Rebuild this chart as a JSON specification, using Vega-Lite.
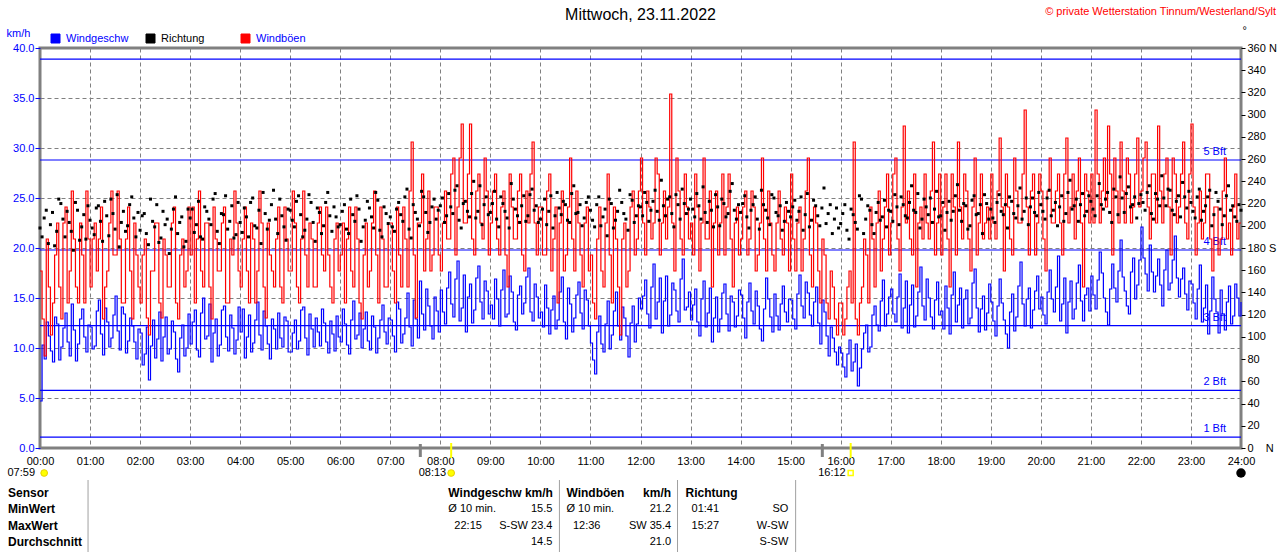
{
"$schema": "https://vega.github.io/schema/vega-lite/v6.json",
"autosize": "none",
"width": 1201,
"height": 400,
"padding": {"left": 40, "top": 48, "right": 39, "bottom": 104},
"background": "white",
"config": {"font": "Liberation Sans", "view": {"stroke": "#808080", "strokeWidth": 3}},
"datasets": {
"wind": [
{"m":0,"w":4.7,"g":17.7,"d":198},{"m":5,"w":8.9,"g":9.2,"d":207},{"m":10,"w":11.2,"g":16.1,"d":184},{"m":15,"w":8.6,"g":14.5,"d":212},{"m":20,"w":12.4,"g":22.5,"d":195},{"m":25,"w":10.1,"g":12.9,"d":220},{"m":30,"w":13.5,"g":24.1,"d":190},{"m":35,"w":9.2,"g":17.7,"d":203},{"m":40,"w":11.8,"g":20.9,"d":178},{"m":45,"w":10.4,"g":14.5,"d":214},{"m":50,"w":13.9,"g":19.3,"d":199},{"m":55,"w":9.6,"g":25.7,"d":188},
{"m":60,"w":12.1,"g":16.1,"d":205},{"m":65,"w":10.2,"g":22.5,"d":192},{"m":70,"w":14.8,"g":20.9,"d":218},{"m":75,"w":9.3,"g":12.9,"d":186},{"m":80,"w":12.6,"g":17.7,"d":209},{"m":85,"w":11.0,"g":25.7,"d":224},{"m":90,"w":15.2,"g":19.3,"d":197},{"m":95,"w":9.8,"g":20.9,"d":181},{"m":100,"w":13.4,"g":14.5,"d":213},{"m":105,"w":10.7,"g":24.1,"d":200},{"m":110,"w":12.2,"g":12.9,"d":226},{"m":115,"w":8.9,"g":19.3,"d":190},
{"m":120,"w":11.5,"g":14.5,"d":196},{"m":125,"w":9.4,"g":20.9,"d":211},{"m":130,"w":6.8,"g":11.3,"d":183},{"m":135,"w":12.8,"g":17.7,"d":204},{"m":140,"w":10.9,"g":22.5,"d":219},{"m":145,"w":8.7,"g":13.0,"d":189},{"m":150,"w":13.1,"g":19.3,"d":201},{"m":155,"w":9.9,"g":16.1,"d":175},{"m":160,"w":11.6,"g":24.1,"d":215},{"m":165,"w":7.6,"g":12.9,"d":193},{"m":170,"w":12.3,"g":20.9,"d":208},{"m":175,"w":10.0,"g":17.7,"d":186},
{"m":180,"w":10.4,"g":19.3,"d":207},{"m":185,"w":13.8,"g":14.5,"d":194},{"m":190,"w":9.1,"g":25.7,"d":222},{"m":195,"w":15.0,"g":16.1,"d":188},{"m":200,"w":11.2,"g":22.5,"d":213},{"m":205,"w":8.6,"g":12.9,"d":201},{"m":210,"w":12.9,"g":20.9,"d":229},{"m":215,"w":10.3,"g":17.7,"d":184},{"m":220,"w":14.2,"g":24.1,"d":210},{"m":225,"w":9.7,"g":14.5,"d":197},{"m":230,"w":12.0,"g":19.3,"d":218},{"m":235,"w":10.8,"g":22.5,"d":192},
{"m":240,"w":11.6,"g":16.1,"d":203},{"m":245,"w":9.0,"g":24.1,"d":216},{"m":250,"w":13.3,"g":14.5,"d":190},{"m":255,"w":10.5,"g":20.9,"d":225},{"m":260,"w":14.6,"g":17.7,"d":198},{"m":265,"w":9.8,"g":22.5,"d":184},{"m":270,"w":12.2,"g":13.0,"d":211},{"m":275,"w":8.9,"g":19.3,"d":205},{"m":280,"w":11.9,"g":16.1,"d":232},{"m":285,"w":13.5,"g":24.1,"d":193},{"m":290,"w":10.1,"g":14.5,"d":209},{"m":295,"w":12.7,"g":20.9,"d":187},
{"m":300,"w":9.6,"g":17.7,"d":214},{"m":305,"w":12.8,"g":22.5,"d":199},{"m":310,"w":10.7,"g":14.5,"d":227},{"m":315,"w":14.1,"g":25.7,"d":190},{"m":320,"w":9.3,"g":16.1,"d":206},{"m":325,"w":11.9,"g":20.9,"d":221},{"m":330,"w":13.0,"g":16.1,"d":186},{"m":335,"w":10.2,"g":24.1,"d":212},{"m":340,"w":12.5,"g":17.7,"d":200},{"m":345,"w":9.5,"g":19.3,"d":230},{"m":350,"w":11.4,"g":14.5,"d":195},{"m":355,"w":13.2,"g":22.5,"d":208},
{"m":360,"w":10.6,"g":19.3,"d":201},{"m":365,"w":12.4,"g":14.5,"d":219},{"m":370,"w":9.4,"g":24.1,"d":193},{"m":375,"w":14.7,"g":16.1,"d":210},{"m":380,"w":11.3,"g":20.9,"d":227},{"m":385,"w":10.0,"g":12.9,"d":186},{"m":390,"w":13.6,"g":22.5,"d":205},{"m":395,"w":9.8,"g":17.7,"d":216},{"m":400,"w":12.1,"g":25.7,"d":198},{"m":405,"w":11.0,"g":14.5,"d":223},{"m":410,"w":14.3,"g":20.9,"d":190},{"m":415,"w":10.4,"g":16.1,"d":211},
{"m":420,"w":12.8,"g":22.5,"d":208},{"m":425,"w":9.6,"g":14.5,"d":195},{"m":430,"w":13.9,"g":19.3,"d":221},{"m":435,"w":11.4,"g":24.1,"d":204},{"m":440,"w":15.5,"g":16.1,"d":233},{"m":445,"w":10.2,"g":30.6,"d":189},{"m":450,"w":12.9,"g":13.0,"d":212},{"m":455,"w":16.7,"g":22.5,"d":200},{"m":460,"w":11.8,"g":17.7,"d":226},{"m":465,"w":14.2,"g":25.7,"d":194},{"m":470,"w":10.9,"g":19.3,"d":217},{"m":475,"w":13.7,"g":24.1,"d":206},
{"m":480,"w":15.8,"g":17.7,"d":218},{"m":485,"w":12.4,"g":25.7,"d":203},{"m":490,"w":17.6,"g":20.9,"d":229},{"m":495,"w":13.1,"g":29.0,"d":211},{"m":500,"w":18.7,"g":24.1,"d":236},{"m":505,"w":14.0,"g":32.4,"d":198},{"m":510,"w":11.6,"g":22.5,"d":222},{"m":515,"w":16.4,"g":32.4,"d":208},{"m":520,"w":13.8,"g":19.3,"d":240},{"m":525,"w":18.2,"g":27.4,"d":213},{"m":530,"w":12.9,"g":20.9,"d":201},{"m":535,"w":15.7,"g":25.7,"d":226},
{"m":540,"w":14.3,"g":22.5,"d":212},{"m":545,"w":16.9,"g":27.4,"d":231},{"m":550,"w":12.2,"g":19.3,"d":199},{"m":555,"w":17.8,"g":25.7,"d":220},{"m":560,"w":13.4,"g":16.1,"d":207},{"m":565,"w":15.6,"g":24.1,"d":238},{"m":570,"w":11.8,"g":20.9,"d":215},{"m":575,"w":16.2,"g":27.4,"d":203},{"m":580,"w":14.5,"g":17.7,"d":227},{"m":585,"w":18.0,"g":22.5,"d":209},{"m":590,"w":12.7,"g":30.6,"d":233},{"m":595,"w":15.1,"g":19.3,"d":218},
{"m":600,"w":13.6,"g":24.1,"d":206},{"m":605,"w":16.3,"g":19.3,"d":224},{"m":610,"w":11.4,"g":27.4,"d":213},{"m":615,"w":15.2,"g":20.9,"d":198},{"m":620,"w":12.8,"g":14.5,"d":230},{"m":625,"w":17.1,"g":25.7,"d":210},{"m":630,"w":10.9,"g":19.3,"d":219},{"m":635,"w":14.4,"g":29.0,"d":203},{"m":640,"w":13.0,"g":17.7,"d":236},{"m":645,"w":16.6,"g":22.5,"d":212},{"m":650,"w":11.9,"g":16.1,"d":200},{"m":655,"w":14.8,"g":24.1,"d":221},
{"m":660,"w":10.5,"g":19.3,"d":214},{"m":665,"w":7.4,"g":12.9,"d":199},{"m":670,"w":13.2,"g":24.1,"d":226},{"m":675,"w":9.6,"g":16.1,"d":208},{"m":680,"w":14.7,"g":27.4,"d":191},{"m":685,"w":11.3,"g":14.5,"d":220},{"m":690,"w":15.6,"g":20.9,"d":205},{"m":695,"w":10.8,"g":11.3,"d":232},{"m":700,"w":13.0,"g":22.5,"d":211},{"m":705,"w":9.1,"g":17.7,"d":196},{"m":710,"w":14.2,"g":25.7,"d":223},{"m":715,"w":12.4,"g":20.9,"d":209},
{"m":720,"w":13.9,"g":29.0,"d":217},{"m":725,"w":16.8,"g":19.3,"d":230},{"m":730,"w":12.0,"g":24.1,"d":204},{"m":735,"w":18.4,"g":22.5,"d":222},{"m":740,"w":14.6,"g":27.4,"d":213},{"m":745,"w":11.5,"g":22.5,"d":241},{"m":750,"w":17.2,"g":20.9,"d":209},{"m":755,"w":13.3,"g":35.4,"d":226},{"m":760,"w":15.8,"g":17.7,"d":199},{"m":765,"w":12.6,"g":25.7,"d":219},{"m":770,"w":18.9,"g":19.3,"d":233},{"m":775,"w":14.1,"g":24.1,"d":211},
{"m":780,"w":12.8,"g":22.5,"d":224},{"m":785,"w":15.9,"g":27.4,"d":208},{"m":790,"w":11.2,"g":17.7,"d":218},{"m":795,"w":16.7,"g":29.0,"d":235},{"m":800,"w":13.5,"g":20.9,"d":203},{"m":805,"w":10.6,"g":16.1,"d":214},{"m":810,"w":15.1,"g":25.7,"d":228},{"m":815,"w":12.9,"g":22.5,"d":200},{"m":820,"w":16.4,"g":19.3,"d":220},{"m":825,"w":11.7,"g":27.4,"d":211},{"m":830,"w":14.6,"g":16.1,"d":238},{"m":835,"w":13.2,"g":24.1,"d":206},
{"m":840,"w":15.3,"g":20.9,"d":212},{"m":845,"w":11.0,"g":25.7,"d":227},{"m":850,"w":16.5,"g":20.9,"d":198},{"m":855,"w":12.4,"g":24.1,"d":219},{"m":860,"w":14.2,"g":19.3,"d":206},{"m":865,"w":10.7,"g":29.0,"d":232},{"m":870,"w":17.0,"g":17.7,"d":214},{"m":875,"w":13.1,"g":22.5,"d":201},{"m":880,"w":15.4,"g":17.7,"d":225},{"m":885,"w":11.8,"g":25.7,"d":209},{"m":890,"w":16.2,"g":19.3,"d":196},{"m":895,"w":12.6,"g":22.5,"d":221},
{"m":900,"w":14.8,"g":27.4,"d":208},{"m":905,"w":11.9,"g":17.7,"d":223},{"m":910,"w":17.3,"g":24.1,"d":213},{"m":915,"w":13.0,"g":20.9,"d":196},{"m":920,"w":15.5,"g":29.0,"d":229},{"m":925,"w":12.2,"g":16.1,"d":205},{"m":930,"w":16.1,"g":22.5,"d":218},{"m":935,"w":10.4,"g":14.5,"d":200},{"m":940,"w":13.6,"g":19.3,"d":234},{"m":945,"w":9.2,"g":12.9,"d":211},{"m":950,"w":11.0,"g":16.1,"d":193},{"m":955,"w":8.3,"g":11.3,"d":216},
{"m":960,"w":9.5,"g":14.5,"d":202},{"m":965,"w":7.1,"g":12.9,"d":219},{"m":970,"w":10.8,"g":17.7,"d":188},{"m":975,"w":8.6,"g":30.6,"d":210},{"m":980,"w":6.2,"g":11.3,"d":197},{"m":985,"w":9.9,"g":16.1,"d":224},{"m":990,"w":12.3,"g":19.3,"d":206},{"m":995,"w":10.1,"g":24.1,"d":214},{"m":1000,"w":14.2,"g":16.1,"d":193},{"m":1005,"w":11.7,"g":25.7,"d":221},{"m":1010,"w":16.8,"g":20.9,"d":208},{"m":1015,"w":13.4,"g":27.4,"d":199},
{"m":1020,"w":15.9,"g":22.5,"d":213},{"m":1025,"w":12.6,"g":29.0,"d":228},{"m":1030,"w":17.4,"g":17.7,"d":201},{"m":1035,"w":14.0,"g":32.2,"d":219},{"m":1040,"w":11.5,"g":25.7,"d":207},{"m":1045,"w":16.3,"g":19.3,"d":236},{"m":1050,"w":13.2,"g":16.1,"d":212},{"m":1055,"w":18.1,"g":24.1,"d":198},{"m":1060,"w":12.8,"g":27.4,"d":224},{"m":1065,"w":15.0,"g":20.9,"d":210},{"m":1070,"w":11.9,"g":30.6,"d":203},{"m":1075,"w":16.6,"g":22.5,"d":231},
{"m":1080,"w":13.7,"g":19.3,"d":209},{"m":1085,"w":16.2,"g":27.4,"d":196},{"m":1090,"w":11.4,"g":16.1,"d":222},{"m":1095,"w":17.6,"g":24.1,"d":213},{"m":1100,"w":14.3,"g":30.6,"d":237},{"m":1105,"w":12.0,"g":20.9,"d":204},{"m":1110,"w":15.8,"g":25.7,"d":218},{"m":1115,"w":13.0,"g":17.7,"d":200},{"m":1120,"w":17.9,"g":29.0,"d":227},{"m":1125,"w":11.6,"g":22.5,"d":211},{"m":1130,"w":15.2,"g":20.9,"d":193},{"m":1135,"w":13.5,"g":24.1,"d":220},
{"m":1140,"w":14.6,"g":27.4,"d":215},{"m":1145,"w":11.2,"g":20.9,"d":203},{"m":1150,"w":16.9,"g":31.0,"d":228},{"m":1155,"w":12.8,"g":17.7,"d":210},{"m":1160,"w":10.0,"g":24.1,"d":198},{"m":1165,"w":15.4,"g":19.3,"d":222},{"m":1170,"w":13.1,"g":25.7,"d":207},{"m":1175,"w":18.6,"g":22.5,"d":234},{"m":1180,"w":12.2,"g":33.8,"d":213},{"m":1185,"w":16.0,"g":19.3,"d":201},{"m":1190,"w":13.8,"g":27.4,"d":225},{"m":1195,"w":17.2,"g":22.5,"d":209},
{"m":1200,"w":15.1,"g":25.7,"d":219},{"m":1205,"w":12.4,"g":17.7,"d":206},{"m":1210,"w":17.8,"g":29.0,"d":232},{"m":1215,"w":13.6,"g":22.5,"d":214},{"m":1220,"w":19.2,"g":27.4,"d":200},{"m":1225,"w":14.4,"g":19.3,"d":227},{"m":1230,"w":11.5,"g":31.0,"d":211},{"m":1235,"w":16.7,"g":24.1,"d":241},{"m":1240,"w":13.9,"g":20.9,"d":218},{"m":1245,"w":18.3,"g":29.0,"d":204},{"m":1250,"w":12.7,"g":16.1,"d":229},{"m":1255,"w":16.0,"g":25.7,"d":213},
{"m":1260,"w":17.2,"g":27.4,"d":222},{"m":1265,"w":13.9,"g":33.8,"d":209},{"m":1270,"w":19.6,"g":22.5,"d":238},{"m":1275,"w":15.0,"g":29.0,"d":215},{"m":1280,"w":12.3,"g":32.2,"d":230},{"m":1285,"w":18.4,"g":19.3,"d":203},{"m":1290,"w":14.6,"g":25.7,"d":226},{"m":1295,"w":20.8,"g":30.6,"d":244},{"m":1300,"w":15.7,"g":22.5,"d":212},{"m":1305,"w":13.4,"g":27.4,"d":235},{"m":1310,"w":19.0,"g":24.1,"d":219},{"m":1315,"w":16.3,"g":31.0,"d":207},
{"m":1320,"w":22.1,"g":25.7,"d":228},{"m":1325,"w":17.4,"g":30.6,"d":214},{"m":1330,"w":20.3,"g":20.9,"d":236},{"m":1335,"w":15.6,"g":27.4,"d":206},{"m":1340,"w":18.9,"g":32.2,"d":224},{"m":1345,"w":14.2,"g":22.5,"d":245},{"m":1350,"w":19.8,"g":29.0,"d":218},{"m":1355,"w":16.5,"g":19.3,"d":232},{"m":1360,"w":21.2,"g":27.4,"d":210},{"m":1365,"w":15.1,"g":24.1,"d":227},{"m":1370,"w":18.0,"g":30.6,"d":239},{"m":1375,"w":13.8,"g":20.9,"d":216},
{"m":1380,"w":16.4,"g":32.4,"d":221},{"m":1385,"w":12.9,"g":19.3,"d":207},{"m":1390,"w":18.3,"g":25.7,"d":233},{"m":1395,"w":14.0,"g":22.5,"d":213},{"m":1400,"w":11.4,"g":27.4,"d":226},{"m":1405,"w":17.1,"g":17.7,"d":200},{"m":1410,"w":13.6,"g":24.1,"d":230},{"m":1415,"w":15.8,"g":20.9,"d":215},{"m":1420,"w":11.8,"g":29.0,"d":209},{"m":1425,"w":16.2,"g":22.5,"d":236},{"m":1430,"w":13.2,"g":24.1,"d":218},{"m":1435,"w":15.0,"g":20.9,"d":204},
{"m":1440,"w":14.6,"g":22.5,"d":214},
{"m":2.5,"w":10.3,"g":12.9,"d":190},{"m":7.5,"w":12.6,"g":20.9,"d":214},{"m":12.5,"w":9.7,"g":11.3,"d":201},{"m":17.5,"w":13.1,"g":19.3,"d":182},{"m":22.5,"w":8.8,"g":16.1,"d":224},{"m":27.5,"w":12.0,"g":22.5,"d":206},{"m":32.5,"w":10.6,"g":14.5,"d":213},{"m":37.5,"w":14.4,"g":25.7,"d":195},{"m":42.5,"w":8.7,"g":16.1,"d":221},{"m":47.5,"w":12.9,"g":22.5,"d":187},{"m":52.5,"w":11.1,"g":14.5,"d":210},{"m":57.5,"w":12.3,"g":20.9,"d":218},
{"m":62.5,"w":9.9,"g":20.9,"d":198},{"m":67.5,"w":13.7,"g":17.7,"d":216},{"m":72.5,"w":11.4,"g":24.1,"d":204},{"m":77.5,"w":14.0,"g":16.1,"d":222},{"m":82.5,"w":10.1,"g":22.5,"d":191},{"m":87.5,"w":13.3,"g":19.3,"d":211},{"m":92.5,"w":11.7,"g":25.7,"d":228},{"m":97.5,"w":14.1,"g":14.5,"d":203},{"m":102.5,"w":9.5,"g":20.9,"d":195},{"m":107.5,"w":13.0,"g":17.7,"d":219},{"m":112.5,"w":10.6,"g":22.5,"d":207},{"m":117.5,"w":11.9,"g":16.1,"d":212},
{"m":122.5,"w":8.3,"g":19.3,"d":209},{"m":127.5,"w":12.1,"g":13.0,"d":193},{"m":132.5,"w":10.2,"g":17.7,"d":224},{"m":137.5,"w":9.0,"g":22.5,"d":199},{"m":142.5,"w":13.6,"g":14.5,"d":185},{"m":147.5,"w":11.1,"g":20.9,"d":213},{"m":152.5,"w":9.4,"g":16.1,"d":206},{"m":157.5,"w":12.7,"g":22.5,"d":197},{"m":162.5,"w":8.9,"g":14.5,"d":226},{"m":167.5,"w":11.0,"g":19.3,"d":203},{"m":172.5,"w":9.2,"g":16.1,"d":181},{"m":177.5,"w":13.4,"g":24.1,"d":215},
{"m":182.5,"w":12.6,"g":24.1,"d":215},{"m":187.5,"w":9.8,"g":20.9,"d":201},{"m":192.5,"w":13.5,"g":17.7,"d":190},{"m":197.5,"w":10.9,"g":22.5,"d":217},{"m":202.5,"w":14.4,"g":16.1,"d":206},{"m":207.5,"w":11.5,"g":24.1,"d":224},{"m":212.5,"w":9.2,"g":17.7,"d":195},{"m":217.5,"w":13.8,"g":22.5,"d":211},{"m":222.5,"w":11.1,"g":14.5,"d":227},{"m":227.5,"w":13.3,"g":20.9,"d":204},{"m":232.5,"w":9.4,"g":25.7,"d":189},{"m":237.5,"w":14.1,"g":17.7,"d":221},
{"m":242.5,"w":13.9,"g":20.9,"d":194},{"m":247.5,"w":11.1,"g":17.7,"d":208},{"m":252.5,"w":9.6,"g":22.5,"d":221},{"m":257.5,"w":12.8,"g":14.5,"d":200},{"m":262.5,"w":11.3,"g":25.7,"d":214},{"m":267.5,"w":13.7,"g":16.1,"d":230},{"m":272.5,"w":10.4,"g":22.5,"d":197},{"m":277.5,"w":12.9,"g":17.7,"d":219},{"m":282.5,"w":9.9,"g":20.9,"d":206},{"m":287.5,"w":11.0,"g":16.1,"d":224},{"m":292.5,"w":13.1,"g":24.1,"d":199},{"m":297.5,"w":9.6,"g":17.7,"d":215},
{"m":302.5,"w":11.5,"g":25.7,"d":205},{"m":307.5,"w":9.9,"g":16.1,"d":222},{"m":312.5,"w":13.8,"g":20.9,"d":210},{"m":317.5,"w":11.0,"g":19.3,"d":196},{"m":322.5,"w":13.4,"g":22.5,"d":228},{"m":327.5,"w":10.1,"g":16.1,"d":203},{"m":332.5,"w":11.6,"g":22.5,"d":216},{"m":337.5,"w":13.9,"g":19.3,"d":193},{"m":342.5,"w":10.6,"g":24.1,"d":221},{"m":347.5,"w":12.7,"g":16.1,"d":209},{"m":352.5,"w":9.7,"g":20.9,"d":217},{"m":357.5,"w":11.1,"g":17.7,"d":199},
{"m":362.5,"w":13.9,"g":22.5,"d":213},{"m":367.5,"w":10.3,"g":20.9,"d":197},{"m":372.5,"w":12.8,"g":17.7,"d":224},{"m":377.5,"w":10.9,"g":24.1,"d":204},{"m":382.5,"w":13.5,"g":14.5,"d":215},{"m":387.5,"w":11.9,"g":19.3,"d":199},{"m":392.5,"w":10.7,"g":16.1,"d":222},{"m":397.5,"w":13.2,"g":22.5,"d":208},{"m":402.5,"w":9.5,"g":19.3,"d":230},{"m":407.5,"w":12.8,"g":24.1,"d":196},{"m":412.5,"w":11.6,"g":16.1,"d":217},{"m":417.5,"w":13.0,"g":22.5,"d":202},
{"m":422.5,"w":11.2,"g":17.7,"d":199},{"m":427.5,"w":14.6,"g":24.1,"d":215},{"m":432.5,"w":10.5,"g":16.1,"d":210},{"m":437.5,"w":13.0,"g":20.9,"d":226},{"m":442.5,"w":12.1,"g":25.7,"d":197},{"m":447.5,"w":14.8,"g":19.3,"d":219},{"m":452.5,"w":11.0,"g":22.5,"d":206},{"m":457.5,"w":13.4,"g":27.4,"d":231},{"m":462.5,"w":15.9,"g":20.9,"d":212},{"m":467.5,"w":12.2,"g":17.7,"d":203},{"m":472.5,"w":15.1,"g":24.1,"d":224},{"m":477.5,"w":11.6,"g":19.3,"d":214},
{"m":482.5,"w":13.6,"g":22.5,"d":225},{"m":487.5,"w":16.0,"g":20.9,"d":209},{"m":492.5,"w":14.4,"g":27.4,"d":217},{"m":497.5,"w":16.9,"g":19.3,"d":232},{"m":502.5,"w":12.7,"g":29.0,"d":205},{"m":507.5,"w":17.3,"g":22.5,"d":220},{"m":512.5,"w":15.1,"g":27.4,"d":213},{"m":517.5,"w":12.5,"g":20.9,"d":229},{"m":522.5,"w":17.0,"g":25.7,"d":207},{"m":527.5,"w":14.6,"g":22.5,"d":236},{"m":532.5,"w":16.7,"g":29.0,"d":219},{"m":537.5,"w":13.4,"g":19.3,"d":210},
{"m":542.5,"w":12.9,"g":25.7,"d":220},{"m":547.5,"w":14.9,"g":20.9,"d":206},{"m":552.5,"w":15.8,"g":24.1,"d":226},{"m":557.5,"w":13.1,"g":19.3,"d":213},{"m":562.5,"w":17.2,"g":27.4,"d":198},{"m":567.5,"w":12.6,"g":20.9,"d":224},{"m":572.5,"w":15.3,"g":25.7,"d":209},{"m":577.5,"w":13.4,"g":19.3,"d":218},{"m":582.5,"w":17.1,"g":25.7,"d":204},{"m":587.5,"w":13.6,"g":27.4,"d":228},{"m":592.5,"w":16.4,"g":22.5,"d":214},{"m":597.5,"w":13.0,"g":24.1,"d":203},
{"m":602.5,"w":12.1,"g":19.3,"d":215},{"m":607.5,"w":14.0,"g":25.7,"d":201},{"m":612.5,"w":13.8,"g":17.7,"d":227},{"m":617.5,"w":11.9,"g":24.1,"d":209},{"m":622.5,"w":15.6,"g":22.5,"d":216},{"m":627.5,"w":12.6,"g":17.7,"d":222},{"m":632.5,"w":16.0,"g":24.1,"d":205},{"m":637.5,"w":11.6,"g":20.9,"d":229},{"m":642.5,"w":15.3,"g":25.7,"d":211},{"m":647.5,"w":13.5,"g":19.3,"d":219},{"m":652.5,"w":15.8,"g":22.5,"d":207},{"m":657.5,"w":12.2,"g":17.7,"d":226},
{"m":662.5,"w":8.8,"g":14.5,"d":205},{"m":667.5,"w":11.6,"g":20.9,"d":219},{"m":672.5,"w":10.4,"g":17.7,"d":200},{"m":677.5,"w":12.4,"g":22.5,"d":215},{"m":682.5,"w":9.9,"g":19.3,"d":224},{"m":687.5,"w":13.7,"g":24.1,"d":198},{"m":692.5,"w":12.2,"g":16.1,"d":213},{"m":697.5,"w":14.1,"g":20.9,"d":221},{"m":702.5,"w":11.2,"g":16.1,"d":206},{"m":707.5,"w":12.5,"g":24.1,"d":228},{"m":712.5,"w":10.6,"g":19.3,"d":203},{"m":717.5,"w":15.0,"g":25.7,"d":218},
{"m":722.5,"w":15.2,"g":22.5,"d":209},{"m":727.5,"w":13.4,"g":25.7,"d":221},{"m":732.5,"w":16.1,"g":20.9,"d":214},{"m":737.5,"w":12.9,"g":29.0,"d":232},{"m":742.5,"w":17.0,"g":19.3,"d":205},{"m":747.5,"w":14.7,"g":25.7,"d":218},{"m":752.5,"w":12.2,"g":24.1,"d":224},{"m":757.5,"w":16.5,"g":22.5,"d":211},{"m":762.5,"w":13.7,"g":29.0,"d":228},{"m":767.5,"w":16.9,"g":20.9,"d":206},{"m":772.5,"w":13.8,"g":27.4,"d":220},{"m":777.5,"w":15.6,"g":20.9,"d":215},
{"m":782.5,"w":14.3,"g":19.3,"d":215},{"m":787.5,"w":12.6,"g":24.1,"d":229},{"m":792.5,"w":14.9,"g":22.5,"d":206},{"m":797.5,"w":12.1,"g":20.9,"d":212},{"m":802.5,"w":16.0,"g":25.7,"d":222},{"m":807.5,"w":13.0,"g":22.5,"d":199},{"m":812.5,"w":11.6,"g":19.3,"d":217},{"m":817.5,"w":15.5,"g":27.4,"d":224},{"m":822.5,"w":13.4,"g":24.1,"d":208},{"m":827.5,"w":15.2,"g":20.9,"d":231},{"m":832.5,"w":12.1,"g":22.5,"d":214},{"m":837.5,"w":15.8,"g":19.3,"d":219},
{"m":842.5,"w":13.0,"g":24.1,"d":220},{"m":847.5,"w":14.6,"g":19.3,"d":208},{"m":852.5,"w":13.7,"g":25.7,"d":214},{"m":857.5,"w":15.7,"g":17.7,"d":226},{"m":862.5,"w":11.9,"g":22.5,"d":197},{"m":867.5,"w":13.9,"g":20.9,"d":219},{"m":872.5,"w":14.9,"g":25.7,"d":207},{"m":877.5,"w":11.6,"g":19.3,"d":228},{"m":882.5,"w":13.2,"g":22.5,"d":212},{"m":887.5,"w":14.4,"g":20.9,"d":218},{"m":892.5,"w":13.6,"g":24.1,"d":204},{"m":897.5,"w":14.9,"g":17.7,"d":213},
{"m":902.5,"w":12.9,"g":20.9,"d":217},{"m":907.5,"w":15.4,"g":22.5,"d":205},{"m":912.5,"w":14.2,"g":17.7,"d":226},{"m":917.5,"w":16.6,"g":25.7,"d":210},{"m":922.5,"w":13.3,"g":19.3,"d":199},{"m":927.5,"w":14.6,"g":24.1,"d":223},{"m":932.5,"w":12.5,"g":17.7,"d":209},{"m":937.5,"w":14.8,"g":20.9,"d":216},{"m":942.5,"w":11.2,"g":14.5,"d":202},{"m":947.5,"w":12.1,"g":17.7,"d":219},{"m":952.5,"w":9.6,"g":12.9,"d":206},{"m":957.5,"w":10.1,"g":14.5,"d":198},
{"m":962.5,"w":8.1,"g":11.3,"d":211},{"m":967.5,"w":9.4,"g":16.1,"d":196},{"m":972.5,"w":7.7,"g":14.5,"d":215},{"m":977.5,"w":10.4,"g":12.9,"d":203},{"m":982.5,"w":8.0,"g":14.5,"d":227},{"m":987.5,"w":11.5,"g":20.9,"d":193},{"m":992.5,"w":9.6,"g":14.5,"d":218},{"m":997.5,"w":13.3,"g":20.9,"d":201},{"m":1002.5,"w":12.3,"g":22.5,"d":212},{"m":1007.5,"w":14.7,"g":17.7,"d":205},{"m":1012.5,"w":12.2,"g":24.1,"d":223},{"m":1017.5,"w":15.1,"g":19.3,"d":214},
{"m":1022.5,"w":13.4,"g":27.4,"d":204},{"m":1027.5,"w":15.1,"g":20.9,"d":217},{"m":1032.5,"w":12.0,"g":24.1,"d":226},{"m":1037.5,"w":16.7,"g":22.5,"d":209},{"m":1042.5,"w":14.3,"g":20.9,"d":221},{"m":1047.5,"w":12.1,"g":27.4,"d":214},{"m":1052.5,"w":15.6,"g":22.5,"d":229},{"m":1057.5,"w":14.2,"g":20.9,"d":206},{"m":1062.5,"w":16.9,"g":22.5,"d":217},{"m":1067.5,"w":13.1,"g":25.7,"d":225},{"m":1072.5,"w":14.8,"g":19.3,"d":215},{"m":1077.5,"w":13.3,"g":27.4,"d":208},
{"m":1082.5,"w":11.9,"g":24.1,"d":221},{"m":1087.5,"w":14.0,"g":20.9,"d":212},{"m":1092.5,"w":15.3,"g":27.4,"d":205},{"m":1097.5,"w":12.6,"g":19.3,"d":227},{"m":1102.5,"w":16.0,"g":24.1,"d":214},{"m":1107.5,"w":14.9,"g":27.4,"d":220},{"m":1112.5,"w":12.4,"g":20.9,"d":197},{"m":1117.5,"w":16.5,"g":24.1,"d":223},{"m":1122.5,"w":14.0,"g":19.3,"d":210},{"m":1127.5,"w":13.9,"g":27.4,"d":219},{"m":1132.5,"w":11.8,"g":22.5,"d":228},{"m":1137.5,"w":16.4,"g":20.9,"d":206},
{"m":1142.5,"w":12.7,"g":22.5,"d":207},{"m":1147.5,"w":14.2,"g":25.7,"d":221},{"m":1152.5,"w":14.5,"g":24.1,"d":213},{"m":1157.5,"w":11.4,"g":27.4,"d":219},{"m":1162.5,"w":13.6,"g":20.9,"d":226},{"m":1167.5,"w":11.7,"g":29.0,"d":211},{"m":1172.5,"w":16.2,"g":22.5,"d":218},{"m":1177.5,"w":14.4,"g":27.4,"d":206},{"m":1182.5,"w":14.9,"g":24.1,"d":225},{"m":1187.5,"w":12.0,"g":25.7,"d":217},{"m":1192.5,"w":15.7,"g":19.3,"d":212},{"m":1197.5,"w":13.9,"g":27.4,"d":230},
{"m":1202.5,"w":13.3,"g":20.9,"d":213},{"m":1207.5,"w":15.6,"g":25.7,"d":225},{"m":1212.5,"w":14.9,"g":22.5,"d":209},{"m":1217.5,"w":16.1,"g":25.7,"d":221},{"m":1222.5,"w":12.7,"g":22.5,"d":217},{"m":1227.5,"w":17.0,"g":27.4,"d":204},{"m":1232.5,"w":14.6,"g":22.5,"d":230},{"m":1237.5,"w":12.9,"g":27.4,"d":215},{"m":1242.5,"w":16.5,"g":25.7,"d":224},{"m":1247.5,"w":14.7,"g":22.5,"d":219},{"m":1252.5,"w":15.3,"g":27.4,"d":209},{"m":1257.5,"w":13.7,"g":22.5,"d":227},
{"m":1262.5,"w":15.3,"g":22.5,"d":215},{"m":1267.5,"w":16.8,"g":27.4,"d":227},{"m":1272.5,"w":17.5,"g":25.7,"d":219},{"m":1277.5,"w":13.6,"g":24.1,"d":224},{"m":1282.5,"w":15.9,"g":27.4,"d":212},{"m":1287.5,"w":16.0,"g":29.0,"d":233},{"m":1292.5,"w":17.7,"g":22.5,"d":210},{"m":1297.5,"w":17.1,"g":25.7,"d":225},{"m":1302.5,"w":14.2,"g":29.0,"d":229},{"m":1307.5,"w":17.6,"g":22.5,"d":217},{"m":1312.5,"w":14.9,"g":27.4,"d":226},{"m":1317.5,"w":18.8,"g":24.1,"d":220},
{"m":1322.5,"w":19.0,"g":29.0,"d":221},{"m":1327.5,"w":15.7,"g":24.1,"d":230},{"m":1332.5,"w":17.6,"g":27.4,"d":211},{"m":1337.5,"w":17.2,"g":22.5,"d":229},{"m":1342.5,"w":16.3,"g":25.7,"d":218},{"m":1347.5,"w":17.8,"g":27.4,"d":225},{"m":1352.5,"w":15.8,"g":24.1,"d":233},{"m":1357.5,"w":18.8,"g":29.0,"d":214},{"m":1362.5,"w":17.0,"g":22.5,"d":222},{"m":1367.5,"w":16.9,"g":27.4,"d":208},{"m":1372.5,"w":15.4,"g":22.5,"d":226},{"m":1377.5,"w":16.7,"g":27.4,"d":231},
{"m":1382.5,"w":14.5,"g":24.1,"d":213},{"m":1387.5,"w":15.9,"g":22.5,"d":226},{"m":1392.5,"w":12.6,"g":20.9,"d":205},{"m":1397.5,"w":16.3,"g":27.4,"d":218},{"m":1402.5,"w":13.7,"g":20.9,"d":232},{"m":1407.5,"w":14.9,"g":24.1,"d":210},{"m":1412.5,"w":11.5,"g":19.3,"d":222},{"m":1417.5,"w":13.4,"g":25.7,"d":201},{"m":1422.5,"w":14.6,"g":20.9,"d":227},{"m":1427.5,"w":12.4,"g":19.3,"d":214},{"m":1432.5,"w":16.4,"g":27.4,"d":208},{"m":1437.5,"w":13.2,"g":22.5,"d":219}
],
"tbl": [
{"c":"L","r":0,"t":"Sensor"},{"c":"L","r":1,"t":"MinWert"},{"c":"L","r":2,"t":"MaxWert"},{"c":"L","r":3,"t":"Durchschnitt"},
{"c":"HA","r":0,"t":"Windgeschw km/h"},{"c":"HB","r":0,"t":"Windböen"},{"c":"HBu","r":0,"t":"km/h"},{"c":"HC","r":0,"t":"Richtung"},
{"c":"A1","r":1,"t":"Ø 10 min."},{"c":"A1b","r":2,"t":"22:15"},
{"c":"A2","r":1,"t":"15.5"},{"c":"A2","r":2,"t":"S-SW 23.4"},{"c":"A2","r":3,"t":"14.5"},
{"c":"B1","r":1,"t":"Ø 10 min."},{"c":"B1b","r":2,"t":"12:36"},
{"c":"B2","r":1,"t":"21.2"},{"c":"B2","r":2,"t":"SW 35.4"},{"c":"B2","r":3,"t":"21.0"},
{"c":"C1b","r":1,"t":"01:41"},{"c":"C1b","r":2,"t":"15:27"},
{"c":"C2","r":1,"t":"SO"},{"c":"C2","r":2,"t":"W-SW"},{"c":"C2","r":3,"t":"S-SW"}
]
},
"layer": [
{
"layer": [
{"data": {"name": "wind"}, "mark": {"type": "line", "interpolate": "step-after", "strokeWidth": 1.2},
 "encoding": {
  "x": {"field": "m", "type": "quantitative", "title": null, "scale": {"domain": [0, 1440], "nice": false, "zero": false},
   "axis": {"values": [0,60,120,180,240,300,360,420,480,540,600,660,720,780,840,900,960,1020,1080,1140,1200,1260,1320,1380,1440],
    "labelExpr": "(datum.value < 600 ? '0' : '') + (datum.value / 60) + ':00'",
    "grid": true, "gridColor": "#808080", "gridDash": [4, 3], "gridWidth": 1, "ticks": false, "tickSize": 0, "domain": false,
    "labelPadding": 7, "labelFontSize": 11, "labelColor": "#000000", "labelFlush": false, "labelOverlap": false, "labelBound": false}},
  "y": {"field": "w", "type": "quantitative", "title": "km/h", "scale": {"domain": [0, 40], "nice": false, "zero": false},
   "axis": {"orient": "left", "values": [0,5,10,15,20,25,30,35,40], "format": ".1f", "grid": true, "gridColor": "#808080", "gridDash": [4, 3], "gridWidth": 1,
    "domain": false, "ticks": true, "tickColor": "#0000ff", "tickSize": 5, "labelPadding": 1, "labelColor": "#0000ff", "labelFontSize": 11, "labelFlush": false,
    "titleAngle": 0, "titleAlign": "left", "titleBaseline": "middle", "titleX": -34, "titleY": -15, "titleColor": "#0000ff", "titleFontWeight": "normal", "titleFontSize": 11}},
  "color": {"datum": "Windgeschw", "type": "nominal",
   "scale": {"domain": ["Windgeschw", "Richtung", "Windböen"], "range": ["#0000ff", "#000000", "#ff0000"]},
   "legend": {"orient": "none", "legendX": 10, "legendY": -15, "direction": "horizontal", "title": null, "symbolType": "square", "symbolSize": 81,
    "symbolStrokeColor": "#000000", "symbolStrokeWidth": 1, "labelFontSize": 11, "labelOffset": 5, "columnPadding": 15, "gridAlign": "all", "padding": 0,
    "encode": {"symbols": {"update": {"fill": {"scale": "color", "field": "value"}, "stroke": {"value": "#000000"}, "strokeWidth": {"value": 1}, "opacity": {"value": 1}, "shape": {"value": "square"}, "size": {"value": 81}}},
     "labels": {"update": {"fill": {"signal": "datum.value === 'Richtung' ? '#000000' : '#0000ff'"}}}}}}}},
{"data": {"values": [{"v":1.08},{"v":5.76},{"v":12.24},{"v":19.8},{"v":28.8},{"v":38.88}]},
 "mark": {"type": "rule", "color": "#0000ff", "strokeWidth": 1.2},
 "encoding": {"y": {"field": "v", "type": "quantitative", "scale": {"domain": [0, 40], "nice": false, "zero": false}}}},
{"data": {"values": [{"v":1.08,"t":"1 Bft"},{"v":5.76,"t":"2 Bft"},{"v":12.24,"t":"3 Bft"},{"v":19.8,"t":"4 Bft"},{"v":28.8,"t":"5 Bft"}]},
 "mark": {"type": "text", "align": "right", "baseline": "alphabetic", "dx": -15, "dy": -5, "color": "#0000ff", "fontSize": 11},
 "encoding": {"x": {"datum": 1440, "type": "quantitative", "scale": {"domain": [0, 1440], "nice": false, "zero": false}},
  "y": {"field": "v", "type": "quantitative", "scale": {"domain": [0, 40], "nice": false, "zero": false}},
  "text": {"field": "t"}}},
{"data": {"values": [{}]}, "mark": {"type": "rule", "color": "#a0a0a0", "strokeWidth": 1},
 "encoding": {"x": {"datum": 57.6, "type": "quantitative", "scale": {"domain": [0, 1440], "nice": false, "zero": false}},
  "y": {"datum": -3.2, "type": "quantitative", "scale": {"domain": [0, 40], "nice": false, "zero": false}}, "y2": {"datum": -10.4}}},
{"data": {"values": [{}]}, "mark": {"type": "rule", "color": "#a0a0a0", "strokeWidth": 1},
 "encoding": {"x": {"datum": 622.8, "type": "quantitative", "scale": {"domain": [0, 1440], "nice": false, "zero": false}},
  "y": {"datum": -3.2, "type": "quantitative", "scale": {"domain": [0, 40], "nice": false, "zero": false}}, "y2": {"datum": -10.4}}},
{"data": {"values": [{}]}, "mark": {"type": "rule", "color": "#a0a0a0", "strokeWidth": 1},
 "encoding": {"x": {"datum": 764.4, "type": "quantitative", "scale": {"domain": [0, 1440], "nice": false, "zero": false}},
  "y": {"datum": -3.2, "type": "quantitative", "scale": {"domain": [0, 40], "nice": false, "zero": false}}, "y2": {"datum": -10.4}}},
{"data": {"values": [{}]}, "mark": {"type": "rule", "color": "#a0a0a0", "strokeWidth": 1},
 "encoding": {"x": {"datum": 906, "type": "quantitative", "scale": {"domain": [0, 1440], "nice": false, "zero": false}},
  "y": {"datum": -3.2, "type": "quantitative", "scale": {"domain": [0, 40], "nice": false, "zero": false}}, "y2": {"datum": -10.4}}},
{"data": {"values": [{}]}, "mark": {"type": "text", "text": "Mittwoch, 23.11.2022", "fontSize": 16, "align": "center", "baseline": "middle", "color": "#000000"},
 "encoding": {"x": {"datum": 720, "type": "quantitative", "scale": {"domain": [0, 1440], "nice": false, "zero": false}},
  "y": {"datum": 43.3, "type": "quantitative", "scale": {"domain": [0, 40], "nice": false, "zero": false}}}},
{"data": {"values": [{}]}, "mark": {"type": "text", "text": "© private Wetterstation Tinnum/Westerland/Sylt", "fontSize": 11, "align": "right", "baseline": "middle", "dx": 35, "color": "#ff0000"},
 "encoding": {"x": {"datum": 1440, "type": "quantitative", "scale": {"domain": [0, 1440], "nice": false, "zero": false}},
  "y": {"datum": 43.6, "type": "quantitative", "scale": {"domain": [0, 40], "nice": false, "zero": false}}}},
{"data": {"values": [{"m":456},{"m":938}]}, "mark": {"type": "rule", "color": "#808080", "strokeWidth": 3},
 "encoding": {"x": {"field": "m", "type": "quantitative", "scale": {"domain": [0, 1440], "nice": false, "zero": false}},
  "y": {"datum": 0.4, "type": "quantitative", "scale": {"domain": [0, 40], "nice": false, "zero": false}}, "y2": {"datum": -0.9}}},
{"data": {"values": [{"m":493},{"m":972}]}, "mark": {"type": "rule", "color": "#ffff00", "strokeWidth": 2},
 "encoding": {"x": {"field": "m", "type": "quantitative", "scale": {"domain": [0, 1440], "nice": false, "zero": false}},
  "y": {"datum": 0.5, "type": "quantitative", "scale": {"domain": [0, 40], "nice": false, "zero": false}}, "y2": {"datum": -1.0}}},
{"data": {"values": [{"m":0,"t":"07:59"},{"m":493,"t":"08:13"},{"m":972,"t":"16:12"}]},
 "mark": {"type": "text", "align": "right", "baseline": "middle", "dx": -5, "fontSize": 11, "color": "#000000"},
 "encoding": {"x": {"field": "m", "type": "quantitative", "scale": {"domain": [0, 1440], "nice": false, "zero": false}},
  "y": {"datum": -2.5, "type": "quantitative", "scale": {"domain": [0, 40], "nice": false, "zero": false}},
  "text": {"field": "t"}}},
{"data": {"values": [{"m":5},{"m":493}]}, "mark": {"type": "circle", "color": "#ffff00", "size": 45, "opacity": 1, "stroke": "#e8d000", "strokeWidth": 1},
 "encoding": {"x": {"field": "m", "type": "quantitative", "scale": {"domain": [0, 1440], "nice": false, "zero": false}},
  "y": {"datum": -2.5, "type": "quantitative", "scale": {"domain": [0, 40], "nice": false, "zero": false}}}},
{"data": {"values": [{"m":972}]}, "mark": {"type": "square", "filled": false, "color": "#ffff00", "size": 25, "strokeWidth": 1.5, "opacity": 1},
 "encoding": {"x": {"field": "m", "type": "quantitative", "scale": {"domain": [0, 1440], "nice": false, "zero": false}},
  "y": {"datum": -2.5, "type": "quantitative", "scale": {"domain": [0, 40], "nice": false, "zero": false}}}},
{"data": {"values": [{"m":1440}]}, "mark": {"type": "circle", "color": "#000000", "size": 90, "opacity": 1},
 "encoding": {"x": {"field": "m", "type": "quantitative", "scale": {"domain": [0, 1440], "nice": false, "zero": false}},
  "y": {"datum": -2.5, "type": "quantitative", "scale": {"domain": [0, 40], "nice": false, "zero": false}}}},
{"data": {"name": "wind"}, "mark": {"type": "line", "interpolate": "step-after", "strokeWidth": 1.2},
 "encoding": {
  "x": {"field": "m", "type": "quantitative", "scale": {"domain": [0, 1440], "nice": false, "zero": false}},
  "y": {"field": "g", "type": "quantitative", "scale": {"domain": [0, 40], "nice": false, "zero": false}},
  "color": {"datum": "Windböen", "type": "nominal"}}}
]
},
{
"data": {"name": "wind"},
"mark": {"type": "square", "filled": true, "size": 9, "opacity": 1},
"encoding": {
 "x": {"field": "m", "type": "quantitative", "scale": {"domain": [0, 1440], "nice": false, "zero": false}},
 "y": {"field": "d", "type": "quantitative", "title": "°", "scale": {"domain": [0, 360], "nice": false, "zero": false},
  "axis": {"orient": "right", "values": [0,20,40,60,80,100,120,140,160,180,200,220,240,260,280,300,320,340,360],
   "labelExpr": "datum.value == 360 ? '360 N' : datum.value == 180 ? '180 S' : datum.value == 0 ? '0\u00a0\u00a0\u00a0\u00a0N' : datum.label",
   "grid": false, "domain": false, "ticks": true, "tickColor": "#000000", "tickSize": 4, "labelPadding": 2, "labelColor": "#000000", "labelFontSize": 11, "labelFlush": false,
   "titleAngle": 0, "titleAlign": "left", "titleBaseline": "middle", "titleX": 1, "titleY": -18, "titleFontWeight": "normal", "titleFontSize": 11, "titleColor": "#000000"}},
 "color": {"datum": "Richtung", "type": "nominal"}}
},
{
"data": {"name": "tbl"},
"encoding": {
 "y": {"field": "r", "type": "quantitative", "scale": {"domain": [0, 3], "range": [445.3, 493.7], "nice": false, "zero": false}, "axis": null},
 "text": {"field": "t"}},
"layer": [
 {"transform": [{"filter": "datum.c === 'L'"}], "mark": {"type": "text", "align": "left", "baseline": "middle", "fontWeight": "bold", "fontSize": 12, "color": "#000000"},
  "encoding": {"x": {"datum": -38.4, "type": "quantitative", "scale": {"domain": [0, 1440], "nice": false, "zero": false}}}},
 {"transform": [{"filter": "datum.c === 'HA'"}], "mark": {"type": "text", "align": "left", "baseline": "middle", "fontWeight": "bold", "fontSize": 12, "color": "#000000"},
  "encoding": {"x": {"datum": 489.6, "type": "quantitative", "scale": {"domain": [0, 1440], "nice": false, "zero": false}}}},
 {"transform": [{"filter": "datum.c === 'HB'"}], "mark": {"type": "text", "align": "left", "baseline": "middle", "fontWeight": "bold", "fontSize": 12, "color": "#000000"},
  "encoding": {"x": {"datum": 631.2, "type": "quantitative", "scale": {"domain": [0, 1440], "nice": false, "zero": false}}}},
 {"transform": [{"filter": "datum.c === 'HBu'"}], "mark": {"type": "text", "align": "right", "baseline": "middle", "fontWeight": "bold", "fontSize": 12, "color": "#000000"},
  "encoding": {"x": {"datum": 756.7, "type": "quantitative", "scale": {"domain": [0, 1440], "nice": false, "zero": false}}}},
 {"transform": [{"filter": "datum.c === 'HC'"}], "mark": {"type": "text", "align": "left", "baseline": "middle", "fontWeight": "bold", "fontSize": 12, "color": "#000000"},
  "encoding": {"x": {"datum": 774, "type": "quantitative", "scale": {"domain": [0, 1440], "nice": false, "zero": false}}}},
 {"transform": [{"filter": "datum.c === 'A1'"}], "mark": {"type": "text", "align": "left", "baseline": "middle", "fontSize": 11, "color": "#000000"},
  "encoding": {"x": {"datum": 489.6, "type": "quantitative", "scale": {"domain": [0, 1440], "nice": false, "zero": false}}}},
 {"transform": [{"filter": "datum.c === 'A1b'"}], "mark": {"type": "text", "align": "left", "baseline": "middle", "fontSize": 11, "color": "#000000"},
  "encoding": {"x": {"datum": 496.8, "type": "quantitative", "scale": {"domain": [0, 1440], "nice": false, "zero": false}}}},
 {"transform": [{"filter": "datum.c === 'A2'"}], "mark": {"type": "text", "align": "right", "baseline": "middle", "fontSize": 11, "color": "#000000"},
  "encoding": {"x": {"datum": 614.4, "type": "quantitative", "scale": {"domain": [0, 1440], "nice": false, "zero": false}}}},
 {"transform": [{"filter": "datum.c === 'B1'"}], "mark": {"type": "text", "align": "left", "baseline": "middle", "fontSize": 11, "color": "#000000"},
  "encoding": {"x": {"datum": 631.2, "type": "quantitative", "scale": {"domain": [0, 1440], "nice": false, "zero": false}}}},
 {"transform": [{"filter": "datum.c === 'B1b'"}], "mark": {"type": "text", "align": "left", "baseline": "middle", "fontSize": 11, "color": "#000000"},
  "encoding": {"x": {"datum": 639, "type": "quantitative", "scale": {"domain": [0, 1440], "nice": false, "zero": false}}}},
 {"transform": [{"filter": "datum.c === 'B2'"}], "mark": {"type": "text", "align": "right", "baseline": "middle", "fontSize": 11, "color": "#000000"},
  "encoding": {"x": {"datum": 756.7, "type": "quantitative", "scale": {"domain": [0, 1440], "nice": false, "zero": false}}}},
 {"transform": [{"filter": "datum.c === 'C1b'"}], "mark": {"type": "text", "align": "left", "baseline": "middle", "fontSize": 11, "color": "#000000"},
  "encoding": {"x": {"datum": 781.2, "type": "quantitative", "scale": {"domain": [0, 1440], "nice": false, "zero": false}}}},
 {"transform": [{"filter": "datum.c === 'C2'"}], "mark": {"type": "text", "align": "right", "baseline": "middle", "fontSize": 11, "color": "#000000"},
  "encoding": {"x": {"datum": 897.2, "type": "quantitative", "scale": {"domain": [0, 1440], "nice": false, "zero": false}}}}
]
}
],
"resolve": {"scale": {"y": "independent"}}
}
